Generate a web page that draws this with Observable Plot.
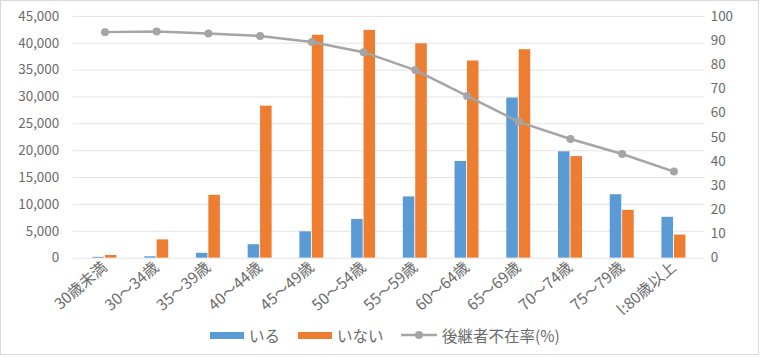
<!DOCTYPE html>
<html><head><meta charset="utf-8">
<script src="https://cdn.jsdelivr.net/npm/d3@7"></script>
<script src="https://cdn.jsdelivr.net/npm/@observablehq/plot@0.6"></script>
<style>
html,body{margin:0;padding:0;background:#fff;}
#wrap{position:relative;width:759px;height:355px;border:1px solid #d9d9d9;box-sizing:border-box;overflow:hidden;font-family:"Noto Sans CJK JP","Noto Sans",sans-serif;}
#chart{position:absolute;left:0;top:0;}
#legend{position:absolute;top:324px;left:0;width:761px;font-size:15.5px;color:#6b6b6b;}
.item{position:absolute;top:0;display:flex;align-items:center;height:20px;}
.sw{display:inline-block;width:34px;height:7px;margin-right:5px;}
</style></head>
<body><div id="wrap"><div id="chart"></div><div id="legend"></div></div>
<script>
const categories = ["30歳未満","30～34歳","35～39歳","40～44歳","45～49歳","50～54歳","55～59歳","60～64歳","65～69歳","70～74歳","75～79歳","l:80歳以上"];
const iru   = [150, 250, 900, 2500, 4900, 7200, 11400, 18000, 29800, 19800, 11800, 7600];
const inai  = [500, 3400, 11700, 28300, 41500, 42400, 39900, 36700, 38800, 18900, 8900, 4300];
const rate  = [93.5, 93.8, 92.9, 91.9, 89.4, 85.2, 77.8, 67.1, 56.4, 49.3, 43.1, 35.8];
const leftTicks = [0,5000,10000,15000,20000,25000,30000,35000,40000,45000];
const rightTicks = [0,10,20,30,40,50,60,70,80,90,100];
const seriesNames = ["いる","いない","後継者不在率(%)"];
const colors = ["#5B9BD5","#ED7D31","#A5A5A5"];
const SCALE = 45000/100;

const rows = categories.map((c,i)=>({c, iru: iru[i], inai: inai[i], rate: rate[i]*SCALE}));
const bw = 12.5;
const plot = Plot.plot({
  width: 761, height: 320,
  marginTop: 15, marginBottom: 62, marginLeft: 72, marginRight: 54,
  style: {fontFamily: '"Noto Sans CJK JP","Noto Sans",sans-serif', fontSize: "13px", color: "#6b6b6b", background: "transparent"},
  x: {domain: categories, padding: 0, label: null},
  y: {domain: [0, 45000], label: null},
  marks: [
    Plot.ruleY(leftTicks, {stroke: "#e3e3e3", strokeWidth: 1}),
    Plot.barY(rows, {x: "c", y: "iru", fill: colors[0], insetLeft: 26.45 - bw, insetRight: 26.45}),
    Plot.barY(rows, {x: "c", y: "inai", fill: colors[1], insetLeft: 26.45, insetRight: 26.45 - bw}),
    Plot.lineY(rows, {x: "c", y: "rate", stroke: colors[2], strokeWidth: 2.5}),
    Plot.dot(rows, {x: "c", y: "rate", fill: colors[2], r: 4}),
    Plot.axisY({ticks: leftTicks, tickSize: 0, tickPadding: 14, tickFormat: d3.format(","), anchor: "left", fontSize: 13.5}),
    Plot.axisY({ticks: rightTicks.map(v=>v*SCALE), tickSize: 0, tickPadding: 6, tickFormat: d => String(Math.round(d/SCALE)), anchor: "right", fontSize: 13.5, textAnchor: "start"}),
    Plot.axisX({tickSize: 0, tickRotate: -41, tickPadding: 7, fontSize: 15.5})
  ]
});
document.getElementById("chart").appendChild(plot);

const leg = document.getElementById("legend");
const pos = [209, 297, 400];
seriesNames.forEach((n,i)=>{
  const it = document.createElement("div");
  it.className = "item"; it.style.left = pos[i] + "px";
  if (i < 2) {
    it.innerHTML = `<span class="sw" style="background:${colors[i]}"></span><span>${n}</span>`;
  } else {
    it.innerHTML = `<svg width="36" height="10" style="margin-right:5px"><line x1="0" x2="36" y1="5" y2="5" stroke="${colors[2]}" stroke-width="2.5"/><circle cx="18" cy="5" r="4" fill="${colors[2]}"/></svg><span>${n}</span>`;
  }
  leg.appendChild(it);
});
</script></body></html>
